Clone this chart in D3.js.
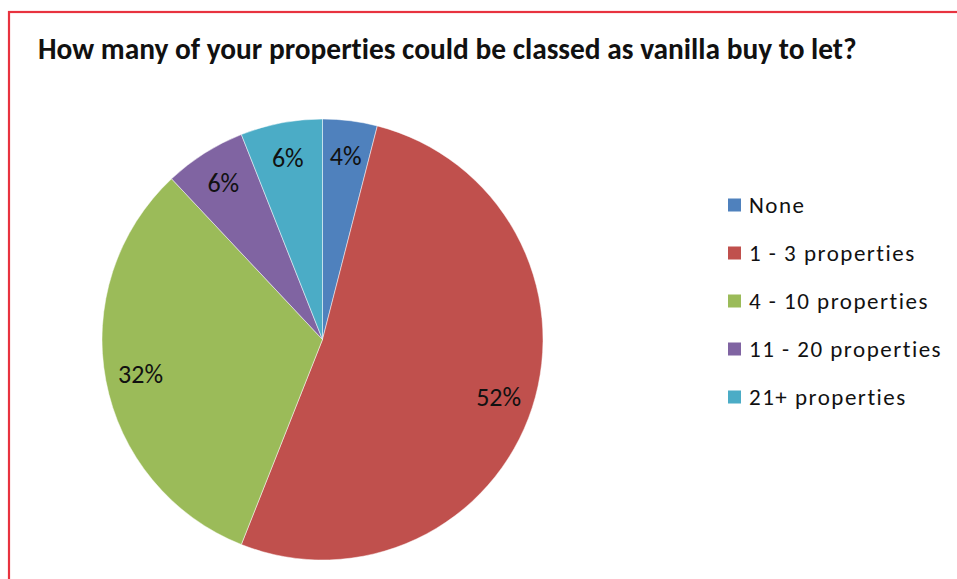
<!DOCTYPE html>
<html>
<head>
<meta charset="utf-8">
<script src="https://cdn.jsdelivr.net/npm/d3@7"></script>
<style>
  html, body { margin: 0; padding: 0; background: #ffffff; }
  svg { display: block; }
  text { font-variant-ligatures: none; }
</style>
</head>
<body>
<svg id="chart" width="957" height="579"></svg>
<script>
// Survey answers: share of respondents by number of vanilla buy-to-let properties
const categories = ["None", "1 - 3 properties", "4 - 10 properties", "11 - 20 properties", "21+ properties"];
const values = [4, 52, 32, 6, 6];
const colors = ["#4F81BD", "#C0504D", "#9BBB59", "#8064A2", "#4BACC6"];
const titleText = "How many of your properties could be classed as vanilla buy to let?";

const W = 957, H = 579;
const svg = d3.select("#chart");
const font = "Carlito, 'Open Sans', 'Noto Sans', sans-serif";

// Frame (top and left edges visible)
svg.append("rect")
  .attr("x", 9).attr("y", 12)
  .attr("width", W + 20).attr("height", H + 20)
  .attr("fill", "#ffffff")
  .attr("stroke", "#E8333F")
  .attr("stroke-width", 2.2);

// Title, fitted to its line width
const title = svg.append("text")
  .attr("x", 38).attr("y", 59)
  .attr("font-family", font)
  .attr("font-weight", "bold")
  .attr("font-size", 20)
  .attr("fill", "#111111")
  .text(titleText);
const tw = title.node().getComputedTextLength();
title.attr("font-size", 20 * 819 / tw);

// Pie
const cx = 322.5, cy = 339.5, r = 220.5;
const data = categories.map((c, i) => ({ cat: c, value: values[i], color: colors[i] }));
const pie = d3.pie().value(d => d.value).sort(null);
const arc = d3.arc().innerRadius(0).outerRadius(r);
const labelArc = d3.arc().innerRadius(r * 0.84).outerRadius(r * 0.84);

const g = svg.append("g").attr("transform", `translate(${cx},${cy})`);
const arcs = pie(data);

g.selectAll("path.slice")
  .data(arcs)
  .enter().append("path")
  .attr("class", "slice")
  .attr("d", arc)
  .attr("fill", d => d.data.color)
  .attr("stroke", "#ffffff")
  .attr("stroke-opacity", 0.6)
  .attr("stroke-width", 0.8);

g.selectAll("text.pct")
  .data(arcs)
  .enter().append("text")
  .attr("class", "pct")
  .attr("transform", d => `translate(${labelArc.centroid(d)})`)
  .attr("text-anchor", "middle")
  .attr("dominant-baseline", "central")
  .attr("font-family", font)
  .attr("font-size", 26)
  .attr("fill", "#111111")
  .text(d => d.data.value + "%");

// Legend
const legendY = d3.scalePoint().domain(categories).range([205, 397]);
const legend = svg.append("g");
const items = legend.selectAll("g.item")
  .data(data)
  .enter().append("g")
  .attr("class", "item")
  .attr("transform", d => `translate(728,${legendY(d.cat)})`);

items.append("rect")
  .attr("x", 0).attr("y", -6.5)
  .attr("width", 13).attr("height", 13)
  .attr("fill", d => d.color);

items.append("text")
  .attr("x", 21).attr("y", 0)
  .attr("dominant-baseline", "central")
  .attr("font-family", font)
  .attr("font-size", 23)
  .attr("letter-spacing", 1.5)
  .attr("fill", "#111111")
  .text(d => d.cat);
</script>
</body>
</html>
